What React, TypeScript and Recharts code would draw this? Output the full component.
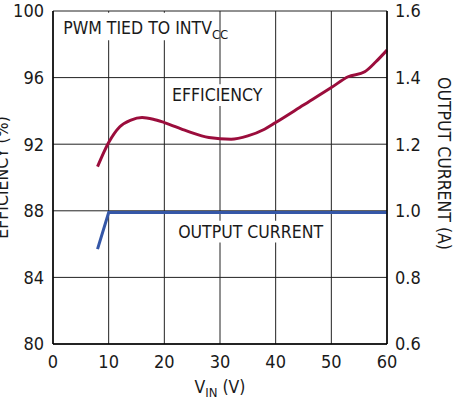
import React from "react";
import {
  ComposedChart,
  Line,
  XAxis,
  YAxis,
  CartesianGrid,
  ReferenceArea,
  Label,
} from "recharts";

const FONT = "'Liberation Sans Narrow', 'Arial Narrow', 'DejaVu Sans Condensed', sans-serif";

// x-axis ticks (V_IN in volts)
const VIN_TICKS = [0, 10, 20, 30, 40, 50, 60];
const EFF_TICKS = [80, 84, 88, 92, 96, 100];
const CURRENT_TICKS = [0.6, 0.8, 1.0, 1.2, 1.4, 1.6];

// efficiency (%) vs V_IN
const effVin = [8, 10, 12, 14, 16, 18, 20, 24, 28, 32, 35, 38, 40, 45, 50, 53, 56, 58, 60];
const effPct = [90.65, 92.1, 93.05, 93.45, 93.6, 93.5, 93.3, 92.8, 92.4, 92.3, 92.5, 92.9, 93.3, 94.35, 95.4, 96.05, 96.35, 96.95, 97.65];

// output current (A) vs V_IN
const curVin = [8, 10, 60];
const curAmps = [0.885, 0.995, 0.995];

const effData = effVin.map((v, i) => ({ vin: v, eff: effPct[i] }));
const curData = curVin.map((v, i) => ({ vin: v, amps: curAmps[i] }));

const RED = "#9b0d3c";
const BLUE = "#3557a7";
const TEXT = "#1a1a1a";

function PwmLabel(props: any) {
  const vb = props.viewBox;
  return (
    <text x={vb.x + 8.5} y={vb.y + 21} fontFamily={FONT} fontSize={17.5} fill={TEXT}>
      PWM TIED TO INTV
      <tspan fontSize={13} dy={5}>CC</tspan>
    </text>
  );
}

function CenterLabel(text: string) {
  return (props: any) => {
    const vb = props.viewBox;
    return (
      <text
        x={vb.x + vb.width / 2}
        y={vb.y + vb.height / 2}
        dy="0.36em"
        textAnchor="middle"
        fontFamily={FONT}
        fontSize={17.5}
        fill={TEXT}
      >
        {text}
      </text>
    );
  };
}

export default function App() {
  return (
    <div style={{ position: "absolute", left: 0, top: 0, background: "#fff" }}>
      <ComposedChart
        width={453}
        height={402}
        margin={{ top: 11, right: 0, bottom: 0, left: 0 }}
      >
        <CartesianGrid yAxisId="left" stroke="#222" strokeWidth={1} />
        <XAxis
          dataKey="vin"
          type="number"
          domain={[0, 60]}
          ticks={VIN_TICKS}
          allowDuplicatedCategory={false}
          height={58}
          tickSize={0}
          tickMargin={11}
          axisLine={{ stroke: "#000", strokeWidth: 1.5 }}
          tick={{ fontFamily: FONT, fontSize: 18, fill: TEXT }}
        >
          <Label
            content={(p: any) => {
              const vb = p.viewBox;
              return (
                <text x={vb.x + vb.width / 2} y={vb.y + 49} textAnchor="middle" fontFamily={FONT} fontSize={17.5} fill={TEXT}>
                  V<tspan fontSize={13} dy={4}>IN</tspan>
                  <tspan dy={-4}> (V)</tspan>
                </text>
              );
            }}
          />
        </XAxis>
        <YAxis
          yAxisId="left"
          orientation="left"
          domain={[80, 100]}
          ticks={EFF_TICKS}
          width={53}
          tickSize={0}
          tickMargin={9}
          axisLine={{ stroke: "#000", strokeWidth: 1.5 }}
          tick={{ fontFamily: FONT, fontSize: 18, fill: TEXT }}
        >
          <Label
            content={(p: any) => {
              const vb = p.viewBox;
              const cy = vb.y + vb.height / 2;
              return (
                <text x={8} y={cy} transform={`rotate(-90, 8, ${cy})`} textAnchor="middle" fontFamily={FONT} fontSize={17.5} fill={TEXT}>
                  EFFICIENCY (%)
                </text>
              );
            }}
          />
        </YAxis>
        <YAxis
          yAxisId="right"
          orientation="right"
          domain={[0.6, 1.6]}
          ticks={CURRENT_TICKS}
          tickFormatter={(v: number) => v.toFixed(1)}
          width={66}
          tickSize={0}
          tickMargin={8}
          axisLine={{ stroke: "#000", strokeWidth: 1.5 }}
          tick={{ fontFamily: FONT, fontSize: 18, fill: TEXT }}
        >
          <Label
            content={(p: any) => {
              const vb = p.viewBox;
              const cy = vb.y + vb.height / 2 - 14;
              return (
                <text x={438} y={cy} transform={`rotate(90, 438, ${cy})`} textAnchor="middle" fontFamily={FONT} fontSize={17.5} fill={TEXT}>
                  OUTPUT CURRENT (A)
                </text>
              );
            }}
          />
        </YAxis>

        <ReferenceArea yAxisId="left" x1={0.3} x2={29.6} y1={98.25} y2={99.9} fill="#fff" fillOpacity={1} stroke="none" label={PwmLabel} />
        <ReferenceArea yAxisId="left" x1={23.5} x2={35.5} y1={94.3} y2={95.6} fill="#fff" fillOpacity={1} stroke="none" label={CenterLabel("EFFICIENCY")} />
        <ReferenceArea yAxisId="left" x1={23.5} x2={47.5} y1={86.1} y2={87.4} fill="#fff" fillOpacity={1} stroke="none" label={CenterLabel("OUTPUT CURRENT")} />

        <Line
          yAxisId="left"
          data={effData}
          dataKey="eff"
          type="monotone"
          stroke={RED}
          strokeWidth={3}
          dot={false}
          isAnimationActive={false}
        />
        <Line
          yAxisId="right"
          data={curData}
          dataKey="amps"
          type="linear"
          stroke={BLUE}
          strokeWidth={3}
          dot={false}
          isAnimationActive={false}
        />
      </ComposedChart>
    </div>
  );
}
